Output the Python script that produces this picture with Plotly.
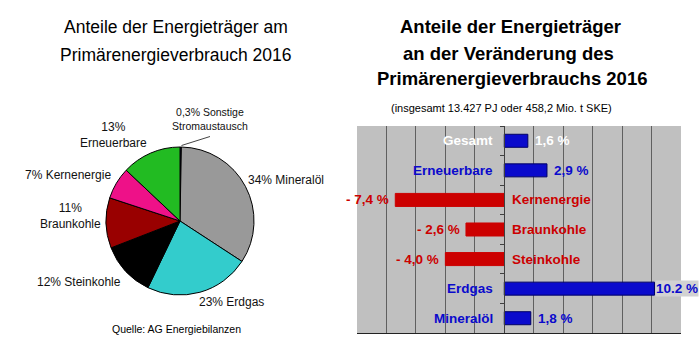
import plotly.graph_objects as go

W, H = 700, 357

# ---------------- data ----------------
pie_labels = ["Sonstige/Stromaustausch", "Mineralöl", "Erdgas", "Steinkohle",
              "Braunkohle", "Kernenergie", "Erneuerbare"]
pie_values = [0.3, 34, 23, 12, 11, 7, 13]
pie_colors = ["#1a1a55", "#999999", "#33cccc", "#000000", "#990000", "#ee1188", "#22bb22"]
pie_texts = ["0,3% Sonstige<br>Stromaustausch", "34% Mineralöl", "23% Erdgas",
             "12% Steinkohle", "11%<br>Braunkohle", "7% Kernenergie", "13%<br>Erneuerbare"]

bar_categories = ["Gesamt", "Erneuerbare", "Kernenergie", "Braunkohle",
                  "Steinkohle", "Erdgas", "Mineralöl"]
bar_values = [1.6, 2.9, -7.4, -2.6, -4.0, 10.2, 1.8]
bar_value_texts = ["1,6 %", "2,9 %", "- 7,4 %", "- 2,6 %", "- 4,0 %", "10.2 %", "1,8 %"]

left_title = ["Anteile der Energieträger am", "Primärenergieverbrauch 2016"]
right_title = ["Anteile der Energieträger", "an der Veränderung des",
               "Primärenergieverbrauchs 2016"]
right_subtitle = "(insgesamt 13.427 PJ oder 458,2 Mio. t SKE)"
source_text = "Quelle: AG Energiebilanzen"

BLUE = "#0a0acc"
RED = "#cc0000"
FONT = "Liberation Sans, Arial, sans-serif"


def px(x):
    return x / W


def py(y):
    return 1 - y / H


fig = go.Figure()

# ---------------- pie ----------------
cx, cy, r = 180, 221, 74
fig.add_trace(go.Pie(
    values=pie_values, labels=pie_labels, sort=False, direction="clockwise",
    rotation=0, textinfo="none", hoverinfo="skip", showlegend=False,
    marker=dict(colors=pie_colors, line=dict(color="#000000", width=1)),
    domain=dict(x=[px(cx - r), px(cx + r)], y=[py(cy + r), py(cy - r)]),
))

# ---------------- bars ----------------
bar_fill = [BLUE if v > 0 else RED for v in bar_values]
bar_line = ["#000066" if v > 0 else RED for v in bar_values]
fig.add_trace(go.Bar(
    x=bar_values, y=bar_categories, orientation="h", width=0.44,
    marker=dict(color=bar_fill, line=dict(color=bar_line, width=1)),
    hoverinfo="skip", showlegend=False,
))

x_dom = [px(357), px(681)]
x_range = [-10, 12]
zero_pos = x_dom[0] + (x_dom[1] - x_dom[0]) * (0 - x_range[0]) / (x_range[1] - x_range[0])

annotations = []

# titles
for txt, x, y in zip(left_title, [176, 176], [27, 55]):
    annotations.append(dict(text=txt, x=px(x), y=py(y), xref="paper", yref="paper",
                            xanchor="center", yanchor="middle", showarrow=False,
                            font=dict(family=FONT, size=17.5, color="#000000")))
for txt, x, y in zip(right_title, [510, 508, 512], [27, 53, 78]):
    annotations.append(dict(text="<b>" + txt + "</b>", x=px(x), y=py(y), xref="paper",
                            yref="paper", xanchor="center", yanchor="middle",
                            showarrow=False,
                            font=dict(family=FONT, size=18.5, color="#000000")))
annotations.append(dict(text=right_subtitle, x=px(501), y=py(108), xref="paper",
                        yref="paper", xanchor="center", yanchor="middle", showarrow=False,
                        font=dict(family=FONT, size=11, color="#000000")))
annotations.append(dict(text=source_text, x=px(177), y=py(329), xref="paper",
                        yref="paper", xanchor="center", yanchor="middle", showarrow=False,
                        font=dict(family=FONT, size=10.5, color="#000000")))

# pie labels
pie_label_pos = [(210, 119.5), (286, 180), (232, 302), (79, 282), (70, 216.5),
                 (68, 175), (113, 134.5)]
pie_label_size = [10.5, 12, 12, 12, 12, 12, 12]
for txt, (x, y), s in zip(pie_texts, pie_label_pos, pie_label_size):
    annotations.append(dict(text=txt, x=px(x), y=py(y), xref="paper", yref="paper",
                            xanchor="center", yanchor="middle", showarrow=False,
                            font=dict(family=FONT, size=s, color="#111111")))

# bar labels
for cat, val, vtxt in zip(bar_categories, bar_values, bar_value_texts):
    col = BLUE if val > 0 else RED
    if cat == "Gesamt":
        col = "#ffffff"
    if val > 0:
        annotations.append(dict(text="<b>" + cat + "</b>", x=0, y=cat, xref="x", yref="y",
                                xanchor="right", yanchor="middle", xshift=-9,
                                showarrow=False, font=dict(family=FONT, size=13.5, color=col)))
        extra = {}
        shift = 5
        if val > 10:
            extra = dict(bgcolor="#d2d2d2", borderpad=0)
            shift = 1
        annotations.append(dict(text="<b>" + vtxt + "</b>", x=val, y=cat, xref="x", yref="y",
                                xanchor="left", yanchor="middle", xshift=shift,
                                showarrow=False, font=dict(family=FONT, size=13.5, color=col),
                                **extra))
    else:
        annotations.append(dict(text="<b>" + cat + "</b>", x=0, y=cat, xref="x", yref="y",
                                xanchor="left", yanchor="middle", xshift=6,
                                showarrow=False, font=dict(family=FONT, size=13.5, color=col)))
        annotations.append(dict(text="<b>" + vtxt + "</b>", x=val, y=cat, xref="x", yref="y",
                                xanchor="right", yanchor="middle", xshift=-4,
                                showarrow=False, font=dict(family=FONT, size=13.5, color=col)))

shapes = [
    # leader line for the small "Sonstige" slice
    dict(type="line", xref="paper", yref="paper", x0=px(181.5), y0=py(145.5),
         x1=px(210), y1=py(136.5), line=dict(color="#444444", width=1)),
]

fig.update_layout(
    width=W, height=H, margin=dict(l=0, r=0, t=0, b=0),
    paper_bgcolor="#ffffff", plot_bgcolor="#c0c0c0",
    font=dict(family=FONT, color="#000000"),
    bargap=0.5,
    xaxis=dict(domain=x_dom, range=x_range, tick0=0, dtick=2, showgrid=True,
               gridcolor="#606060", gridwidth=1, zeroline=False, showticklabels=False,
               showline=True, linecolor="#222222", linewidth=1, fixedrange=True),
    yaxis=dict(domain=[py(333), py(126)], anchor="free", position=zero_pos,
               autorange="reversed", showgrid=False, zeroline=False,
               showticklabels=False, showline=True, linecolor="#404040", linewidth=1,
               ticks="outside", ticklen=4, tickcolor="#404040", tickson="boundaries",
               fixedrange=True),
    annotations=annotations,
    shapes=shapes,
)

fig.write_html(
    "out.html",
    config=dict(displayModeBar=False),
    post_script="document.body.style.margin='0';document.body.style.overflow='hidden';",
)
